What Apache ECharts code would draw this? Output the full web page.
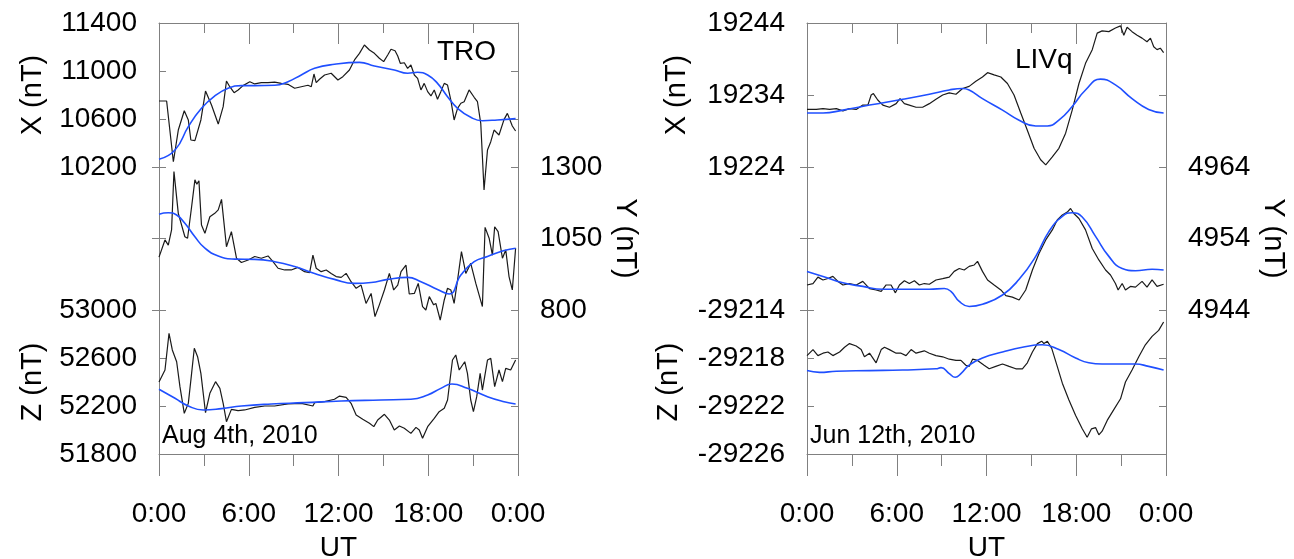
<!DOCTYPE html>
<html>
<head>
<meta charset="utf-8">
<script src="https://cdn.jsdelivr.net/npm/echarts@6/dist/echarts.min.js"></script>
<style>
  html, body { margin: 0; padding: 0; background: #fff; }
  #chart { width: 1294px; height: 559px; }
</style>
</head>
<body>
<div id="chart"></div>
<script>
// time axis (hours UT)
const hourTicks = [0, 6, 12, 18, 24];
const hourLabels = ["0:00", "6:00", "12:00", "18:00", "0:00"];

// tick values for each component axis
const troXTicks = [10200, 10600, 11000, 11400];
const troYTicks = [800, 1050, 1300];
const troZTicks = [51800, 52200, 52600, 53000];
const livXTicks = [19224, 19234, 19244];
const livYTicks = [4944, 4954, 4964];
const livZTicks = [-29226, -29222, -29218, -29214];

// TRO, Aug 4th 2010: [hour, nT]  (black = observed, blue = model)
const troXObs = [[0,10750],[0.51,10750],[0.96,10244],[1.29,10508],[1.69,10669],[1.96,10592],[2.13,10425],[2.4,10420],[2.8,10592],[3.11,10833],[3.51,10717],[3.96,10558],[4.29,10703],[4.51,10917],[4.73,10869],[5.02,10819],[5.29,10842],[5.62,10878],[6.07,10911],[6.4,10892],[6.84,10903],[7.29,10903],[7.73,10908],[8.18,10897],[8.62,10889],[9.07,10856],[9.51,10869],[9.96,10881],[10.18,10869],[10.36,10975],[10.51,10903],[10.73,10931],[11.07,10967],[11.51,10981],[11.96,10925],[12.29,10953],[12.73,11008],[13.07,11092],[13.4,11147],[13.73,11217],[14.07,11175],[14.4,11147],[14.73,11106],[15.02,11078],[15.29,11133],[15.51,11181],[15.78,11169],[15.96,11125],[16.13,11064],[16.4,11069],[16.62,11022],[16.84,11050],[17.07,10967],[17.29,10939],[17.51,10842],[17.73,10897],[17.96,10828],[18.18,10792],[18.4,10842],[18.62,10764],[18.84,10828],[19.07,10897],[19.29,10883],[19.51,10758],[19.73,10592],[19.96,10689],[20.18,10731],[20.4,10744],[20.73,10842],[21.07,10781],[21.29,10744],[21.51,10564],[21.73,10008],[21.96,10342],[22.18,10411],[22.4,10508],[22.73,10467],[23.07,10597],[23.29,10647],[23.62,10542],[23.84,10500]];
const troXMod = [[0,10264],[1.07,10342],[1.96,10536],[2.84,10689],[3.73,10792],[4.62,10856],[5.51,10878],[6.4,10878],[7.73,10881],[8.62,10911],[9.51,10967],[10.4,11022],[11.73,11056],[13.4,11072],[14.4,11042],[15.73,11008],[16.62,10981],[17.29,10989],[17.96,10967],[18.62,10897],[19.29,10786],[19.96,10689],[20.84,10614],[21.62,10586],[22.62,10592],[23.84,10603]];
const troYObs = [[0,985],[0.4,1045],[0.62,1027],[0.84,1080],[1.0,1284],[1.29,1138],[1.73,1056],[1.91,1051],[2.18,1161],[2.4,1255],[2.53,1240],[2.67,1252],[2.84,1097],[3.07,1068],[3.4,1126],[3.73,1138],[3.96,1150],[4.18,1187],[4.51,1021],[4.84,1074],[5.18,981],[5.51,966],[5.96,975],[6.4,987],[6.84,981],[7.29,989],[7.62,969],[7.96,946],[8.4,940],[8.84,940],[9.29,949],[9.73,934],[10.07,931],[10.29,992],[10.51,946],[10.84,934],[11.18,940],[11.51,928],[11.84,917],[12.18,914],[12.51,928],[12.84,899],[13.18,876],[13.51,887],[13.84,823],[14.18,858],[14.44,777],[14.73,818],[15.07,870],[15.4,928],[15.69,870],[15.96,887],[16.18,934],[16.51,957],[16.73,856],[17.07,858],[17.33,893],[17.62,812],[17.84,800],[18.07,847],[18.36,818],[18.51,823],[18.8,765],[19.07,835],[19.29,876],[19.51,870],[19.73,823],[19.96,905],[20.22,1004],[20.51,928],[20.84,963],[21.18,893],[21.62,812],[21.8,1089],[22.07,1051],[22.29,992],[22.44,1091],[22.67,1074],[22.96,981],[23.18,1010],[23.4,917],[23.62,870],[23.84,1016]];
const troYMod = [[0,1135],[0.62,1140],[1.18,1132],[1.73,1103],[2.4,1056],[3.07,1016],[3.96,989],[5.07,978],[6.4,977],[7.73,969],[9.07,952],[10.4,928],[11.73,907],[13.07,893],[14.18,896],[15.29,907],[16.62,914],[17.51,899],[18.62,872],[19.4,856],[20.18,922],[21.07,969],[21.96,987],[23.07,1008],[23.84,1016]];
const troZObs = [[0,52400],[0.4,52500],[0.67,52806],[0.89,52667],[1.18,52569],[1.4,52361],[1.69,52139],[1.96,52222],[2.18,52472],[2.36,52681],[2.58,52611],[2.8,52472],[3.11,52144],[3.4,52306],[3.78,52403],[4.07,52347],[4.29,52222],[4.51,52069],[4.84,52172],[5.29,52161],[5.73,52167],[6.4,52189],[7.07,52200],[7.73,52200],[8.62,52217],[9.51,52222],[10.29,52200],[10.4,52228],[11.07,52236],[11.73,52256],[12.07,52283],[12.51,52272],[12.84,52222],[13.18,52125],[13.62,52089],[14.07,52056],[14.36,52028],[14.62,52083],[15.07,52131],[15.4,52083],[15.73,52000],[16.07,52033],[16.4,52014],[16.84,51972],[17.18,52022],[17.4,52000],[17.62,51931],[17.96,52028],[18.4,52097],[18.73,52153],[19.07,52181],[19.29,52250],[19.62,52583],[19.84,52625],[20.07,52500],[20.44,52569],[20.62,52472],[20.84,52250],[21.02,52153],[21.24,52278],[21.47,52472],[21.62,52333],[21.96,52583],[22.18,52597],[22.44,52361],[22.73,52500],[22.96,52403],[23.18,52514],[23.51,52500],[23.84,52583]];
const troZMod = [[0,52339],[1.07,52264],[1.96,52200],[2.96,52167],[4.18,52178],[5.51,52200],[7.51,52217],[9.73,52228],[12.18,52242],[14.84,52250],[16.84,52256],[17.96,52292],[18.84,52347],[19.58,52383],[20.62,52347],[21.96,52278],[23.07,52236],[23.84,52217]];

// LIVq, Jun 12th 2010
const livXObs = [[0,19232],[0.62,19232],[1.07,19232.1],[1.51,19232],[1.96,19232.1],[2.4,19231.8],[2.84,19232.1],[3.29,19232],[3.73,19232.6],[4.07,19232.6],[4.29,19234],[4.44,19234.2],[4.73,19233.3],[5.07,19232.6],[5.51,19232.3],[5.96,19232.8],[6.22,19233.5],[6.51,19232.8],[6.84,19232.6],[7.29,19232.3],[7.73,19232.3],[8.18,19232.8],[8.62,19233.4],[9.07,19234],[9.51,19234.3],[9.96,19234.1],[10.4,19234.9],[10.84,19235.2],[11.29,19235.9],[11.73,19236.5],[12.07,19237.1],[12.51,19236.8],[12.96,19236.5],[13.4,19235.6],[13.84,19234],[14.29,19231.5],[14.73,19229.1],[15.18,19226.6],[15.62,19225],[15.96,19224.3],[16.4,19225.4],[16.84,19226.6],[17.29,19228.7],[17.73,19231.9],[18.18,19235.6],[18.62,19238.4],[19.07,19240.3],[19.4,19242.6],[19.73,19242.9],[20.18,19242.8],[20.62,19243.3],[20.96,19243.6],[21.18,19242.3],[21.4,19243.4],[21.73,19242.8],[22.07,19242.3],[22.4,19241.9],[22.73,19241.4],[22.96,19241.9],[23.18,19240.7],[23.4,19240.3],[23.62,19240.5],[23.84,19239.9]];
const livXMod = [[0,19231.5],[1.07,19231.5],[2.4,19231.9],[4.18,19232.6],[6.4,19233.4],[8.18,19234.1],[9.51,19234.7],[10.4,19234.9],[10.84,19234.7],[11.73,19233.5],[13.07,19231.9],[14.18,19230.5],[15.29,19229.7],[16.07,19229.7],[16.84,19230.5],[17.73,19232.4],[18.62,19234.7],[19.62,19236.2],[20.62,19235.4],[21.73,19233.5],[22.84,19232],[23.84,19231.5]];
const livYObs = [[0,4947.5],[0.4,4947.7],[0.73,4948.6],[1.07,4948.2],[1.4,4948.4],[1.73,4948.7],[2.07,4948],[2.4,4947.5],[2.84,4947.7],[3.29,4947.5],[3.73,4948],[4.18,4947],[4.62,4946.8],[4.96,4946.6],[5.29,4947.5],[5.62,4947.5],[5.91,4946.4],[6.18,4947.5],[6.51,4948.1],[6.84,4947.7],[7.18,4948.1],[7.51,4947.5],[7.84,4947.7],[8.18,4947.6],[8.62,4948.2],[9.07,4948.4],[9.51,4948.6],[9.84,4949.4],[10.18,4949.8],[10.51,4949.6],[10.84,4950.1],[11.18,4950.3],[11.4,4950.8],[11.73,4949.4],[12.07,4948.2],[12.51,4947.5],[12.96,4946.8],[13.29,4946],[13.73,4945.8],[14.18,4945.4],[14.62,4946.8],[15.07,4949.6],[15.51,4951.9],[15.96,4953.8],[16.4,4955.2],[16.73,4956.6],[17.07,4957.3],[17.4,4957.7],[17.62,4958.2],[17.84,4957.5],[18.18,4956.8],[18.62,4955.2],[19.07,4952.6],[19.51,4951],[19.96,4949.6],[20.29,4948.9],[20.62,4947.7],[20.8,4946.8],[21.07,4947.7],[21.29,4946.8],[21.62,4947.3],[21.96,4947.2],[22.4,4948],[22.73,4947.2],[23.07,4948.2],[23.4,4947.3],[23.84,4947.6]];
const livYMod = [[0,4949.4],[1.07,4948.7],[2.4,4947.8],[3.73,4947.3],[5.07,4946.9],[6.4,4946.9],[8.18,4946.9],[9.18,4947],[9.62,4946.6],[10.18,4945.2],[10.84,4944.5],[11.73,4944.8],[13.07,4946.1],[14.18,4948.3],[15.29,4951.5],[16.18,4955],[17.07,4957.1],[17.73,4957.6],[18.4,4957],[19.29,4954.3],[20.18,4951.5],[21.07,4949.8],[21.96,4949.5],[23.07,4949.7],[23.84,4949.6]];
const livZObs = [[0,-29217.8],[0.4,-29217.3],[0.73,-29217.8],[1.07,-29217.6],[1.4,-29217.5],[1.73,-29217.8],[2.18,-29217.5],[2.51,-29217.1],[2.84,-29216.8],[3.29,-29217],[3.62,-29217.3],[3.84,-29217.9],[4.18,-29217.6],[4.62,-29218.4],[4.96,-29217.3],[5.18,-29217.1],[5.51,-29217.3],[5.96,-29217.6],[6.29,-29217.6],[6.62,-29217.8],[6.96,-29217.3],[7.29,-29217.6],[7.84,-29217.4],[8.18,-29217.6],[8.62,-29217.8],[9.07,-29217.9],[9.51,-29218.1],[9.96,-29218.2],[10.29,-29218.2],[10.62,-29218.6],[10.84,-29218.7],[11.07,-29218.1],[11.4,-29218.2],[11.84,-29218.6],[12.18,-29218.9],[12.62,-29218.7],[13.07,-29218.5],[13.51,-29218.7],[13.96,-29218.9],[14.4,-29218.9],[14.73,-29218.4],[15.07,-29217.5],[15.4,-29216.8],[15.69,-29216.6],[15.84,-29216.8],[16.07,-29216.6],[16.36,-29217.2],[16.73,-29218.7],[17.07,-29220.1],[17.51,-29221.5],[17.96,-29222.8],[18.4,-29223.9],[18.73,-29224.6],[19.02,-29223.9],[19.29,-29223.8],[19.51,-29224.4],[19.73,-29224.1],[20.07,-29223.2],[20.51,-29222.3],[20.96,-29221.4],[21.29,-29220],[21.73,-29219],[22.18,-29217.9],[22.62,-29216.9],[23.07,-29216.2],[23.51,-29215.7],[23.84,-29215]];
const livZMod = [[0,-29219.05],[0.84,-29219.2],[1.96,-29219.1],[4.18,-29219.05],[6.4,-29219],[8.62,-29218.9],[8.96,-29218.8],[9.51,-29219.3],[9.91,-29219.6],[10.29,-29219.3],[10.84,-29218.6],[11.73,-29218],[13.07,-29217.5],[14.4,-29217.1],[15.73,-29216.9],[16.84,-29217.3],[17.96,-29218],[18.84,-29218.4],[19.73,-29218.5],[21.96,-29218.5],[22.84,-29218.7],[23.84,-29219]];

const FONT = "'Liberation Sans', Arial, sans-serif";
const FRAME = "#808080";
const OBS = "#1a1a1a";
const MOD = "#1f4fff";

const panels = [
  { left: 159, station: "TRO", date: "Aug 4th, 2010", stationPos: [437, 38], datePos: [162, 424],
    comps: [
      { ticks: troXTicks, obs: troXObs, mod: troXMod, side: "left", name: "X (nT)", gap: 112 },
      { ticks: troYTicks, obs: troYObs, mod: troYMod, side: "right", name: "Y (nT)", gap: 92 },
      { ticks: troZTicks, obs: troZObs, mod: troZMod, side: "left", name: "Z (nT)", gap: 112 }
    ] },
  { left: 807, station: "LIVq", date: "Jun 12th, 2010", stationPos: [1015, 46], datePos: [810, 424],
    comps: [
      { ticks: livXTicks, obs: livXObs, mod: livXMod, side: "left", name: "X (nT)", gap: 116 },
      { ticks: livYTicks, obs: livYObs, mod: livYMod, side: "right", name: "Y (nT)", gap: 92 },
      { ticks: livZTicks, obs: livZObs, mod: livZMod, side: "left", name: "Z (nT)", gap: 124 }
    ] }
];

const TOP = 23, W = 359;
const bands = [[23, 144], [167, 143], [310, 144]];

const grid = [], xAxis = [], yAxis = [], series = [], graphic = [];

panels.forEach((p) => {
  // frame grid: its four axis lines make the box, its x axes carry the time ticks
  const fg = grid.length;
  grid.push({ left: p.left, top: TOP, width: W, height: 431, outerBoundsMode: "none" });
  xAxis.push({
    gridIndex: fg, type: "value", min: 0, max: 24, interval: 6, position: "bottom",
    axisLine: { show: true, onZero: false, lineStyle: { color: FRAME, width: 1 } },
    axisTick: { show: true, inside: false, length: 22, lineStyle: { color: FRAME } },
    minorTick: { show: true, splitNumber: 2, length: 12, lineStyle: { color: FRAME } },
    splitLine: { show: false },
    axisLabel: { margin: 46, fontSize: 28, color: "#000", fontFamily: FONT,
      formatter: (v) => hourLabels[hourTicks.indexOf(v)] },
    name: "UT", nameLocation: "middle", nameGap: 80,
    nameTextStyle: { fontSize: 28, color: "#000", fontFamily: FONT }
  });
  xAxis.push({
    gridIndex: fg, type: "value", min: 0, max: 24, interval: 6, position: "top",
    axisLine: { show: true, onZero: false, lineStyle: { color: FRAME, width: 1 } },
    axisTick: { show: true, inside: true, length: 21, lineStyle: { color: FRAME } },
    minorTick: { show: true, splitNumber: 2, length: 10, lineStyle: { color: FRAME } },
    splitLine: { show: false }, axisLabel: { show: false }
  });
  ["left", "right"].forEach((side) => {
    yAxis.push({
      gridIndex: fg, type: "value", min: 0, max: 1, position: side,
      axisLine: { show: true, onZero: false, lineStyle: { color: FRAME, width: 1 } },
      axisTick: { show: false }, axisLabel: { show: false }, splitLine: { show: false }
    });
  });

  p.comps.forEach((c, i) => {
    const g = grid.length;
    grid.push({ left: p.left, top: bands[i][0], width: W, height: bands[i][1], outerBoundsMode: "none" });
    xAxis.push({ gridIndex: g, type: "value", min: 0, max: 24, show: false });
    const xi = xAxis.length - 1;
    const min = c.ticks[0], max = c.ticks[c.ticks.length - 1];
    const other = c.side === "left" ? "right" : "left";
    yAxis.push({
      gridIndex: g, type: "value", min, max, position: c.side,
      axisLine: { show: false },
      axisTick: { show: true, inside: true, length: 7, customValues: c.ticks, lineStyle: { color: FRAME } },
      splitLine: { show: false },
      axisLabel: { margin: 22, fontSize: 28, color: "#000", fontFamily: FONT,
        customValues: c.ticks, formatter: (v) => String(v) },
      name: c.name, nameLocation: "middle", nameGap: c.gap,
      nameRotate: c.side === "left" ? 90 : -90,
      nameTextStyle: { fontSize: 29, color: "#000", fontFamily: FONT }
    });
    const yi = yAxis.length - 1;
    // mirrored ticks on the opposite edge
    yAxis.push({
      gridIndex: g, type: "value", min, max, position: other,
      axisLine: { show: false },
      axisTick: { show: true, inside: true, length: 7, customValues: c.ticks, lineStyle: { color: FRAME } },
      splitLine: { show: false }, axisLabel: { show: false }
    });
    series.push({
      type: "line", xAxisIndex: xi, yAxisIndex: yi, data: c.obs, clip: false,
      symbol: "none", smooth: false, lineStyle: { color: OBS, width: 1.2 }, z: 3
    });
    series.push({
      type: "line", xAxisIndex: xi, yAxisIndex: yi, data: c.mod, clip: false,
      symbol: "none", smooth: 0.5, lineStyle: { color: MOD, width: 1.6 }, z: 4
    });
  });

  graphic.push({ type: "text", left: p.stationPos[0], top: p.stationPos[1],
    style: { text: p.station, font: "28px " + FONT, fill: "#000" } });
  graphic.push({ type: "text", left: p.datePos[0], top: p.datePos[1],
    style: { text: p.date, font: "25px " + FONT, fill: "#000" } });
});

const chart = echarts.init(document.getElementById("chart"));
chart.setOption({
  animation: false,
  backgroundColor: "#fff",
  grid, xAxis, yAxis, series, graphic
});
</script>
</body>
</html>
